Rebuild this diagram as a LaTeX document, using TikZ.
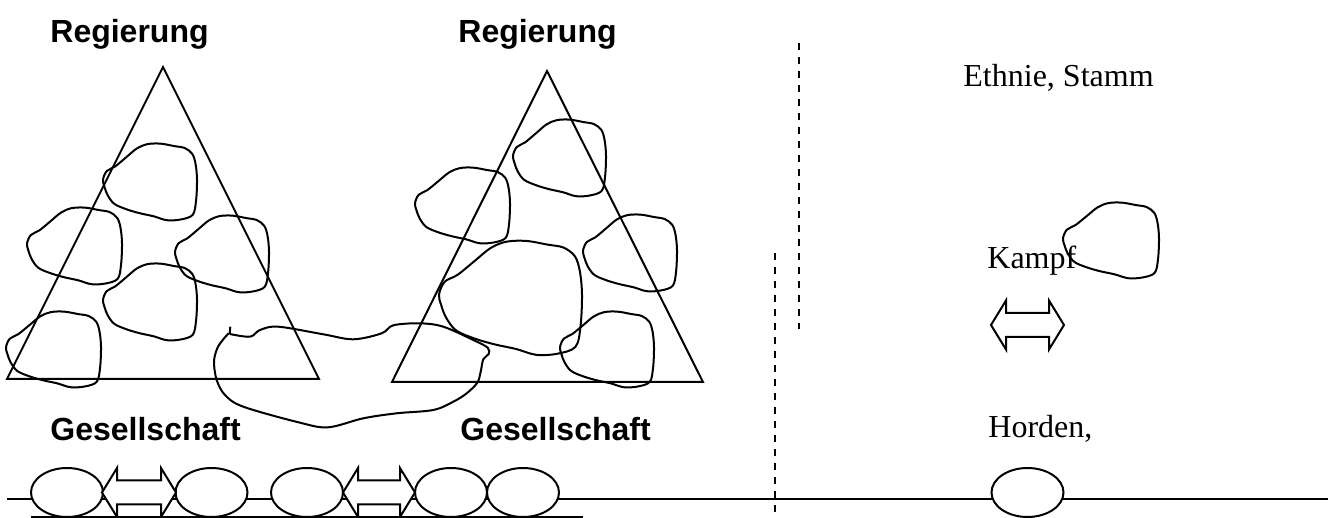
\documentclass[tikz,border=0pt]{standalone}
\usepackage{fontspec}
\setmainfont{Liberation Serif}
\newfontfamily\arialfont{Liberation Sans}
\tikzset{
  ln/.style={line width=1pt, line join=miter},
  blobline/.style={line width=1pt, line join=round},
  ovalshape/.style={ln, fill=white},
  boldlabel/.style={inner sep=0pt, anchor=base west, font=\arialfont\bfseries\fontsize{16pt}{18pt}\selectfont},
  seriflabel/.style={inner sep=0pt, anchor=base west, font=\fontsize{16pt}{18pt}\selectfont},
  dashedline/.style={line width=1pt, dash pattern=on 3.5pt off 3.5pt}
}
\newcommand\myblob[4]{%
  \draw[blobline,shift={(#1,#2)},xscale=#3,yscale=#4] plot[smooth cycle,tension=0.55] coordinates {
    (0,0.47) (0.04,0.36) (0.13,0.30) (0.25,0.18) (0.36,0.07) (0.47,0.015) (0.61,0.008)
    (0.76,0.04) (0.87,0.065) (0.95,0.14) (0.985,0.27) (1.0,0.47) (0.99,0.74)
    (0.955,0.92) (0.83,0.98) (0.68,0.99) (0.54,0.94) (0.39,0.9) (0.25,0.85)
    (0.12,0.78) (0.05,0.67) (0.015,0.56)};}
\newcommand\mydarrow[4]{% left tip x, right tip x, center y, name
  \draw[ovalshape] (#1,#3) -- (#1+15,#3-24.5) -- (#1+15,#3-12) -- (#2-15,#3-12) -- (#2-15,#3-24.5)
    -- (#2,#3) -- (#2-15,#3+24.5) -- (#2-15,#3+12) -- (#1+15,#3+12) -- (#1+15,#3+24.5) -- cycle;}
\begin{document}
\begin{tikzpicture}[x=0.5pt,y=-0.5pt]
\useasboundingbox (0,0) rectangle (1335,518);
% labels
\node[boldlabel] (reg1) at (50,43) {Regierung};
\node[boldlabel] (reg2) at (458,43) {Regierung};
\node[boldlabel] (ges1) at (50,441) {Gesellschaft};
\node[boldlabel] (ges2) at (460,441) {Gesellschaft};
\node[seriflabel] (ethnie) at (963,87) {Ethnie, Stamm};
\node[seriflabel] (kampf) at (987,269) {Kampf};
\node[seriflabel] (horden) at (988,438) {Horden,};
% triangles
\draw[ln] (163,67) -- (7,379) -- (319,379) -- cycle;
\draw[ln] (547,71) -- (392,382) -- (703,382) -- cycle;
% blobs
\myblob{103}{143}{94}{78}
\myblob{27}{207}{95}{78}
\myblob{175}{215}{94}{78}
\myblob{103}{263}{94}{78}
\myblob{6}{311}{95}{77}
\myblob{513}{119}{93}{78}
\myblob{415}{167}{95}{77}
\myblob{583}{214}{94}{78}
\myblob{439}{240}{143}{116}
\myblob{560}{311}{94}{77}
\myblob{1063}{202}{96}{77}
% connecting blob
\draw[blobline] (230.3,326.7) -- (229.7,334) plot[smooth,tension=0.55] coordinates {
 (229.7,334) (250,336.7) (260,330) (278.3,326.7) (323.3,334.3) (353.3,339.3) (381.7,333.3)
 (393.3,325.3) (420,323.3) (443.3,326.7) (473.3,340) (487.7,347.7) (488.7,354) (483.3,359.3)
 (480.7,371.7) (477.3,382.7) (466.7,393.3) (453.3,401.7) (433.3,410) (396.7,413.3)
 (363.3,418.3) (328.3,427.3) (300,422.7) (243.3,406.7) (225,395) (216.7,380) (214,361.7)
 (217.3,348.3) (223.3,339.3) (228.7,333.3)};
% dashed separators
\draw[dashedline] (799,43) -- (799,329);
\draw[dashedline] (775,253) -- (775,512);
% base lines
\coordinate (lineL) at (7,499);
\coordinate (lineR) at (1328,499);
\draw[ln] (lineL) -- (lineR);
\coordinate (baseL) at (31,517);
\coordinate (baseR) at (583,517);
\draw[ln] (baseL) -- (baseR);
% ovals
\foreach \cx/\nm in {67/o1, 211.5/o2, 307/o3, 451/o4, 523/o5, 1027.5/o6}
  \draw[ovalshape] (\cx,492.5) ellipse [x radius=36, y radius=24.5];
% double arrows
\mydarrow{102}{176}{492.5}{a1}
\mydarrow{343}{415}{492.5}{a2}
\mydarrow{991}{1064}{325}{a3}
\end{tikzpicture}
\end{document}
